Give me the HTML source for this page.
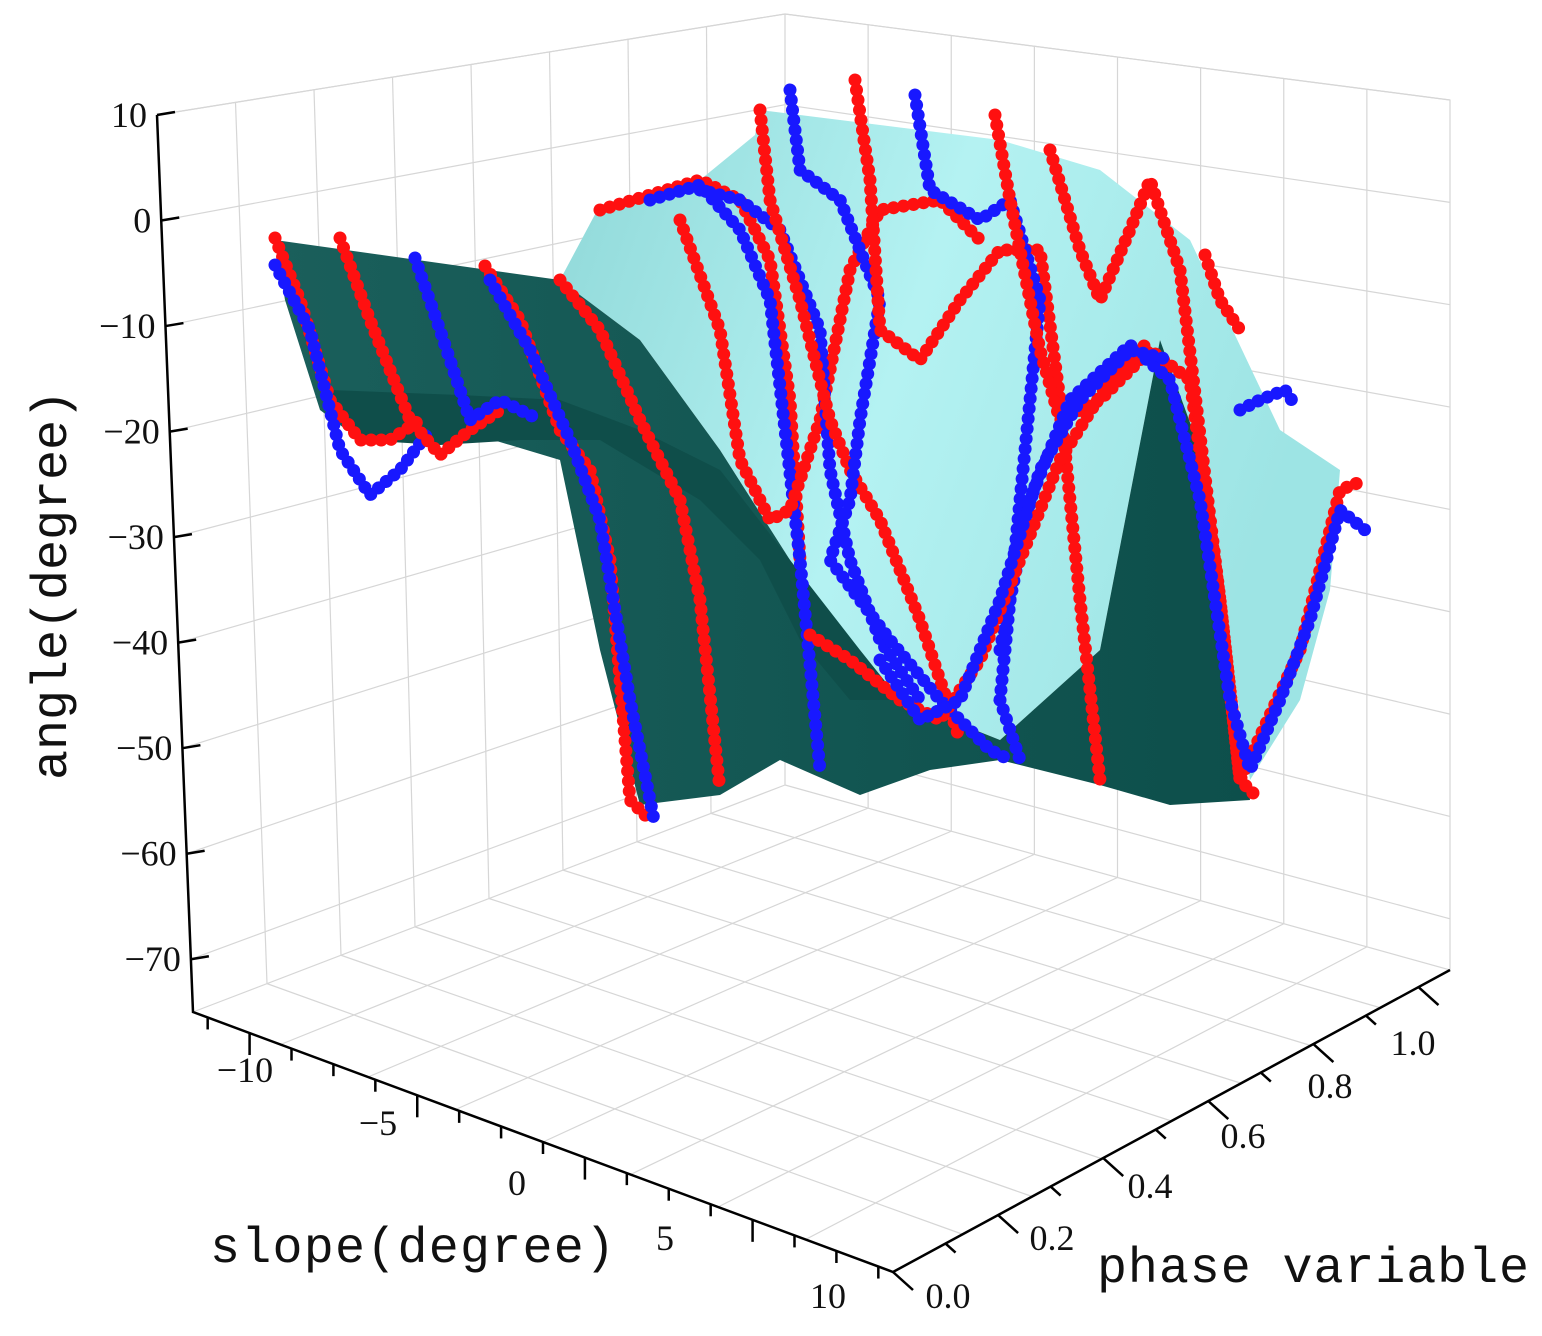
<!DOCTYPE html>
<html><head><meta charset="utf-8"><style>
html,body{margin:0;padding:0;background:#fff;}
svg{display:block}
text{font-family:"Liberation Serif",serif;fill:#111}
.big{font-family:"Liberation Mono",monospace}
</style></head><body>
<svg id="s" width="1542" height="1336" viewBox="0 0 1542 1336" xmlns="http://www.w3.org/2000/svg">
<defs>
<linearGradient id="lg" x1="0" y1="0" x2="1" y2="0.3">
<stop offset="0" stop-color="#8fd8d8"/><stop offset="0.5" stop-color="#b4f2f2"/><stop offset="1" stop-color="#9de4e4"/></linearGradient>
<linearGradient id="dg" x1="0" y1="0" x2="1" y2="0">
<stop offset="0" stop-color="#1a5f5b"/><stop offset="1" stop-color="#0d4f4b"/></linearGradient>
</defs>
<g id="grid" stroke="#d6d6d6" stroke-width="1.2" fill="none"></g>
<g id="surf"></g>
<g id="curves" fill="none" stroke-linecap="round"></g>
<g id="axes" stroke="#000" stroke-width="2.5" fill="none"></g>
<g id="labels"></g>
<text class="big" x="0" y="0" font-size="50" transform="translate(66,780) rotate(-90)" textLength="390">angle(degree)</text>
<text class="big" x="210" y="1262" font-size="50" textLength="405">slope(degree)</text>
<text class="big" x="1097" y="1282" font-size="50" textLength="432">phase variable</text>
</svg>
<script>
const NS="http://www.w3.org/2000/svg";
function el(p,t,a,txt){const e=document.createElementNS(NS,t);for(const k in a)e.setAttribute(k,a[k]);if(txt!==undefined)e.textContent=txt;document.getElementById(p).appendChild(e);return e;}
function lerp(a,b,t){return [a[0]+(b[0]-a[0])*t,a[1]+(b[1]-a[1])*t];}
const LT=[157,115],LB=[193,1012],BT=[785,14],BB=[785,785],RT=[1450,100],RB=[1450,970],FC=[893,1272];
function zf(z){return (10-z)/85;}
for(let z=10;z>=-70;z-=10){const f=zf(z);const a=lerp(LT,LB,f),b=lerp(BT,BB,f),c=lerp(RT,RB,f);
el("grid","polyline",{points:`${a} ${b} ${c}`});}
for(let i=1;i<8;i++){const t=i/8;
el("grid","line",{x1:lerp(LT,BT,t)[0],y1:lerp(LT,BT,t)[1],x2:lerp(LB,BB,t)[0],y2:lerp(LB,BB,t)[1]});
el("grid","line",{x1:lerp(BT,RT,t)[0],y1:lerp(BT,RT,t)[1],x2:lerp(BB,RB,t)[0],y2:lerp(BB,RB,t)[1]});
const p=lerp(LB,FC,t),q=lerp(BB,RB,t);el("grid","line",{x1:p[0],y1:p[1],x2:q[0],y2:q[1]});
const r=lerp(FC,RB,t),s=lerp(LB,BB,t);el("grid","line",{x1:r[0],y1:r[1],x2:s[0],y2:s[1]});}
el("grid","polyline",{points:`${LT} ${BT} ${RT} ${RB} ${BB} ${BT}`});
el("grid","polyline",{points:`${LB} ${BB}`});
el("axes","polyline",{points:`${LT} ${LB} ${FC} ${RB}`});
for(let z=10;z>=-70;z-=10){const p=lerp(LT,LB,zf(z));el("axes","line",{x1:p[0],y1:p[1],x2:p[0]+18,y2:p[1]-3});
el("labels","text",{x:p[0]-10,y:p[1]+12,"font-size":36,"text-anchor":"end"},String(z).replace("-","\u2212"));}
const sl=[[-10,245,1082],[-5,378,1135],[0,517,1195],[5,665,1250],[10,828,1308]];
for(let i=0;i<=16;i++){const t=(i+0.35)/16.7;const p=lerp(LB,FC,t);el("axes","line",{x1:p[0],y1:p[1],x2:p[0],y2:p[1]+(i%4==1?22:12)});}
sl.forEach(s=>el("labels","text",{x:s[1],y:s[2],"font-size":36,"text-anchor":"middle"},String(s[0]).replace("-","\u2212")));
const ph=[["0.0",948,1308],["0.2",1052,1250],["0.4",1150,1198],["0.6",1243,1148],["0.8",1330,1098],["1.0",1413,1055]];
for(let i=0;i<=10;i++){const t=i/10.6;const p=lerp(FC,RB,t);el("axes","line",{x1:p[0],y1:p[1],x2:p[0]+(i%2==0?20:10),y2:p[1]+(i%2==0?18:9)});}
ph.forEach(s=>el("labels","text",{x:s[1],y:s[2],"font-size":36,"text-anchor":"middle"},s[0]));
el("surf","polygon",{fill:"url(#lg)",points:"560,280 600,205 700,180 755,135 760,110 1000,140 1100,170 1190,240 1280,430 1340,470 1330,590 1300,700 1250,780 1200,450 1160,340 1100,650 1000,740 900,700 850,650 790,560 720,450 640,340"});
el("surf","polygon",{fill:"url(#dg)",points:"275,240 560,280 640,340 720,450 790,560 850,650 900,700 1000,740 1100,650 1160,340 1200,450 1250,800 1170,805 1100,785 1000,760 930,770 860,795 780,760 720,795 640,805 600,650 560,460 460,430 360,440 320,410 285,300"});
el("surf","polygon",{fill:"#0f4e4a",points:"330,390 460,395 560,400 640,430 720,470 790,560 860,650 900,700 850,700 800,640 760,560 700,500 600,440 520,440 440,445 360,440"});
function curve(pts,col){el("curves","polyline",{points:pts,stroke:col,"stroke-width":13,"stroke-dasharray":"0.1 10"});}
const R="#ff1010",B="#1818ff";
curve("275,238 300,300 330,400 360,440 390,440 420,420",R);
curve("275,265 310,330 340,450 370,495 400,470 430,430",B);
curve("340,238 370,320 410,420 440,455 470,430 500,410",R);
curve("415,258 440,330 470,420 500,400 540,420",B);
curve("485,266 520,320 560,430 590,470 610,560 630,800 650,820",R);
curve("490,280 530,350 570,440 600,520 630,700 655,825",B);
curve("560,280 600,330 640,420 680,500 700,600 720,790",R);
curve("600,210 650,195 700,180 740,200 770,260 790,400 800,560",R);
curve("650,200 700,185 740,230 770,300 800,560 820,770",B);
curve("680,220 720,330 740,460 770,520 790,510 820,420 850,270 880,210 940,200 980,240",R);
curve("700,190 740,200 780,230 820,330 830,470 850,560 880,640 920,700",B);
curve("760,110 770,200 800,300 830,420 850,470 880,520 920,620 960,740",R);
curve("790,90 800,170 840,200 880,300 860,420 850,500 830,560 860,600 890,640 940,700 990,750 1010,760",B);
curve("855,80 870,180 880,330 920,360 960,300 1000,250 1040,250 1060,400 1080,600 1100,780",R);
curve("915,95 930,190 980,220 1010,200 1040,300 1020,500 1000,700 1020,760",B);
curve("995,115 1010,200 1040,350 1060,420 1100,400 1150,350 1190,380 1220,600 1240,780 1260,800",R);
curve("1050,150 1080,250 1100,300 1130,230 1150,180 1180,270 1220,600 1240,780 1300,650 1340,490 1365,480",R);
curve("1000,650 1030,500 1070,400 1130,345 1170,380 1200,500 1230,700 1250,770 1280,700 1310,620 1340,510 1365,530",B);
curve("810,635 850,660 900,700 940,720 980,660 1020,560 1060,460 1110,380 1150,340",R);
curve("880,660 920,720 960,700 1000,600 1040,470 1080,400 1130,350 1170,360",B);
curve("1240,410 1260,400 1285,390 1295,405",B);
curve("1205,255 1220,300 1240,330",R);
</script>
</body></html>
